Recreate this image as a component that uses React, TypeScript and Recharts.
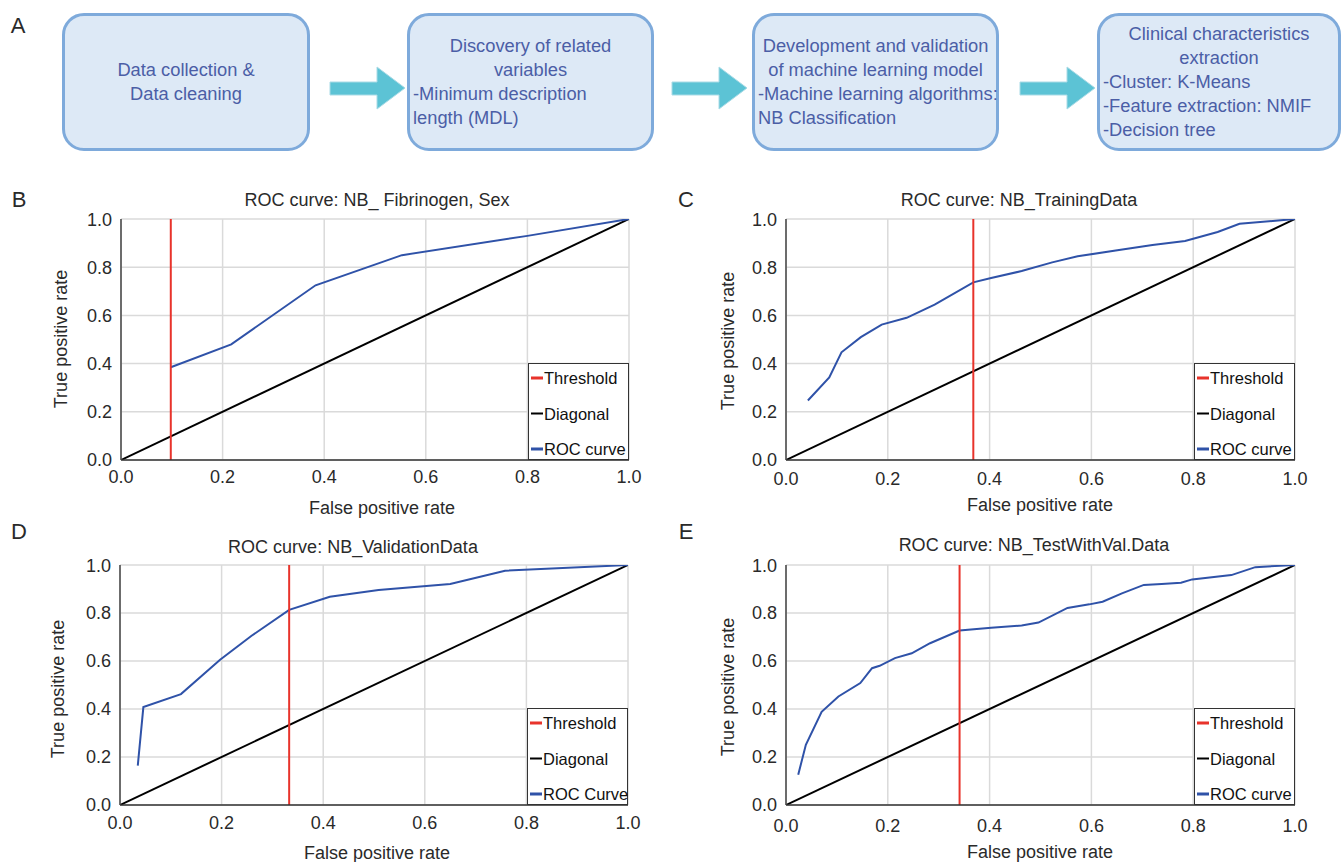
import React from "react";
import { CartesianGrid, Line, LineChart, ReferenceLine, XAxis, YAxis } from "recharts";

const axisTicks = [0, 0.2, 0.4, 0.6, 0.8, 1.0];
const diagonalFpr = [0, 1];
const diagonalTpr = [0, 1];

// B: NB_ Fibrinogen, Sex
const fprB = [0.098, 0.217, 0.383, 0.553, 0.8, 1.0];
const tprB = [0.385, 0.48, 0.725, 0.85, 0.93, 1.0];
const thresholdB = 0.098;

// C: NB_TrainingData
const fprC = [0.043, 0.085, 0.109, 0.147, 0.188, 0.237, 0.292, 0.368, 0.403, 0.463, 0.523, 0.573, 0.651, 0.72, 0.784, 0.848, 0.891, 1.0];
const tprC = [0.247, 0.343, 0.447, 0.51, 0.562, 0.59, 0.645, 0.737, 0.755, 0.784, 0.82, 0.845, 0.87, 0.892, 0.909, 0.946, 0.98, 1.0];
const thresholdC = 0.368;

// D: NB_ValidationData
const fprD = [0.035, 0.046, 0.12, 0.197, 0.259, 0.333, 0.413, 0.509, 0.65, 0.758, 1.0];
const tprD = [0.164, 0.408, 0.462, 0.605, 0.705, 0.813, 0.868, 0.896, 0.921, 0.976, 1.0];
const thresholdD = 0.333;

// E: NB_TestWithVal.Data
const fprE = [0.024, 0.039, 0.07, 0.103, 0.146, 0.169, 0.184, 0.214, 0.247, 0.283, 0.341, 0.403, 0.463, 0.496, 0.553, 0.596, 0.622, 0.66, 0.703, 0.738, 0.776, 0.798, 0.875, 0.922, 1.0];
const tprE = [0.126, 0.251, 0.388, 0.452, 0.508, 0.57, 0.58, 0.612, 0.632, 0.674, 0.727, 0.739, 0.748, 0.76, 0.821, 0.836, 0.847, 0.882, 0.917, 0.921, 0.926, 0.94, 0.958, 0.991, 1.0];
const thresholdE = 0.341;

const legendNames = ["Threshold", "Diagonal", "ROC curve"];
const legendColors = ["#e8332b", "#000000", "#2f52a8"];

const FONT = "'Liberation Sans', Arial, Helvetica, sans-serif";
const TEXT = "#2a2a2a";
const FLOW_TEXT = "#4b5ea6";

const zip = (xs: number[], ys: number[]) => xs.map((x, i) => ({ fpr: x, tpr: ys[i] }));

type Plot = { left: number; right: number; top: number; bottom: number };
type Pt = { x: number; y: number };

type PanelProps = {
  letter: string;
  letterPos: Pt;
  title: string;
  titlePos: Pt;
  xLabelPos: Pt;
  yLabelPos: Pt;
  plot: Plot;
  fpr: number[];
  tpr: number[];
  threshold: number;
  curveName: string;
  xTickGap: number;
};

function Centered({ pos, children, size = 18, rotate = false }: { pos: Pt; children: React.ReactNode; size?: number; rotate?: boolean }) {
  return (
    <div
      style={{
        position: "absolute",
        left: pos.x,
        top: pos.y,
        transform: `translate(-50%, -50%)${rotate ? " rotate(-90deg)" : ""}`,
        fontSize: size,
        lineHeight: 1,
        whiteSpace: "nowrap",
        color: TEXT
      }}
    >
      {children}
    </div>
  );
}

function RocPanel(p: PanelProps) {
  const plotW = p.plot.right - p.plot.left;
  const plotH = p.plot.bottom - p.plot.top;
  const width = plotW + 100;
  const height = plotH + 60;
  const roc = zip(p.fpr, p.tpr);
  const diag = zip(diagonalFpr, diagonalTpr);
  const names = legendNames.map((n, i) => (i === 2 ? p.curveName : n));

  return (
    <>
      <Centered pos={p.letterPos} size={22}>{p.letter}</Centered>
      <Centered pos={p.titlePos}>{p.title}</Centered>
      <Centered pos={p.xLabelPos}>False positive rate</Centered>
      <Centered pos={p.yLabelPos} rotate>True positive rate</Centered>
      <div style={{ position: "absolute", left: p.plot.left - 70, top: p.plot.top - 10 }}>
        <LineChart width={width} height={height} margin={{ top: 10, right: 30, left: 20, bottom: 20 }}>
          <CartesianGrid stroke="#dadada" strokeWidth={1.5} />
          <XAxis
            type="number"
            dataKey="fpr"
            domain={[0, 1]}
            ticks={axisTicks}
            tickFormatter={(v: number) => v.toFixed(1)}
            tickLine={false}
            tickMargin={p.xTickGap}
            height={30}
            axisLine={{ stroke: "#333", strokeWidth: 1.5 }}
            tick={{ fill: TEXT, fontSize: 18, fontFamily: FONT }}
            allowDataOverflow
          />
          <YAxis
            type="number"
            dataKey="tpr"
            domain={[0, 1]}
            ticks={axisTicks}
            tickFormatter={(v: number) => v.toFixed(1)}
            tickLine={false}
            tickMargin={3}
            width={50}
            axisLine={{ stroke: "#444", strokeWidth: 1.5 }}
            tick={{ fill: TEXT, fontSize: 18, fontFamily: FONT }}
            allowDataOverflow
          />
          <Line data={diag} dataKey="tpr" type="linear" stroke={legendColors[1]} strokeWidth={2} dot={false} isAnimationActive={false} />
          <Line data={roc} dataKey="tpr" type="linear" stroke={legendColors[2]} strokeWidth={2} dot={false} isAnimationActive={false} />
          <ReferenceLine x={p.threshold} stroke={legendColors[0]} strokeWidth={2} />
        </LineChart>
      </div>
      <div
        style={{
          position: "absolute",
          left: p.plot.right - 101,
          top: p.plot.bottom - 97,
          width: 101,
          height: 97,
          boxSizing: "border-box",
          border: "1.5px solid #333",
          background: "#fff",
          fontSize: 16.5,
          color: "#111"
        }}
      >
        {names.map((n, i) => (
          <div key={n} style={{ position: "absolute", left: 2, top: 14 + i * 35.5, transform: "translateY(-50%)", display: "flex", alignItems: "center", whiteSpace: "nowrap" }}>
            <span style={{ display: "inline-block", width: 12, height: 2.5, background: legendColors[i], marginRight: 1 }} />
            {n}
          </div>
        ))}
      </div>
    </>
  );
}

type FlowLine = { t: string; a: "center" | "left" };
const flowBoxes: { left: number; width: number; lines: FlowLine[] }[] = [
  { left: 62, width: 248, lines: [{ t: "Data collection &", a: "center" }, { t: "Data cleaning", a: "center" }] },
  {
    left: 407,
    width: 247,
    lines: [
      { t: "Discovery of related", a: "center" },
      { t: "variables", a: "center" },
      { t: "-Minimum description", a: "left" },
      { t: "length (MDL)", a: "left" }
    ]
  },
  {
    left: 752,
    width: 247,
    lines: [
      { t: "Development and validation", a: "center" },
      { t: "of machine learning model", a: "center" },
      { t: "-Machine learning algorithms:", a: "left" },
      { t: "NB Classification", a: "left" }
    ]
  },
  {
    left: 1097,
    width: 244,
    lines: [
      { t: "Clinical characteristics", a: "center" },
      { t: "extraction", a: "center" },
      { t: "-Cluster: K-Means", a: "left" },
      { t: "-Feature extraction: NMIF", a: "left" },
      { t: "-Decision tree", a: "left" }
    ]
  }
];
const arrowLefts = [329, 671, 1019];

function Flowchart() {
  return (
    <>
      <Centered pos={{ x: 18, y: 26 }} size={22}>A</Centered>
      {flowBoxes.map((b, i) => (
        <div
          key={i}
          style={{
            position: "absolute",
            left: b.left,
            top: 13,
            width: b.width,
            height: 138,
            boxSizing: "border-box",
            border: "3px solid #7eaadb",
            borderRadius: 22,
            background: "#dde9f6",
            display: "flex",
            flexDirection: "column",
            justifyContent: "center",
            padding: "0 3px",
            color: FLOW_TEXT,
            fontSize: 18.3,
            lineHeight: "24px"
          }}
        >
          {b.lines.map((l, j) => (
            <div key={j} style={{ textAlign: l.a, whiteSpace: "nowrap" }}>{l.t}</div>
          ))}
        </div>
      ))}
      {arrowLefts.map((x, i) => (
        <svg key={i} width={78} height={46} style={{ position: "absolute", left: x, top: 66 }}>
          <polygon points="1,16 48,16 48,1 76,22 48,43 48,29 1,29" fill="#5cc3d5" stroke="#a9dbe6" strokeWidth={1} />
        </svg>
      ))}
    </>
  );
}

export default function App() {
  return (
    <div style={{ position: "absolute", left: 0, top: 0, width: 1342, height: 862, background: "#fff", fontFamily: FONT, overflow: "hidden" }}>
      <Flowchart />
      <RocPanel
        letter="B"
        letterPos={{ x: 19, y: 200 }}
        title="ROC curve: NB_ Fibrinogen, Sex"
        titlePos={{ x: 377, y: 200 }}
        xLabelPos={{ x: 382, y: 508 }}
        yLabelPos={{ x: 61, y: 339 }}
        plot={{ left: 121, right: 629, top: 219, bottom: 460 }}
        fpr={fprB}
        tpr={tprB}
        threshold={thresholdB}
        curveName="ROC curve"
        xTickGap={4}
      />
      <RocPanel
        letter="C"
        letterPos={{ x: 686, y: 200 }}
        title="ROC curve: NB_TrainingData"
        titlePos={{ x: 1019, y: 200 }}
        xLabelPos={{ x: 1040, y: 505 }}
        yLabelPos={{ x: 728, y: 341 }}
        plot={{ left: 786, right: 1295, top: 219, bottom: 460 }}
        fpr={fprC}
        tpr={tprC}
        threshold={thresholdC}
        curveName="ROC curve"
        xTickGap={6}
      />
      <RocPanel
        letter="D"
        letterPos={{ x: 19, y: 532 }}
        title="ROC curve: NB_ValidationData"
        titlePos={{ x: 353, y: 547 }}
        xLabelPos={{ x: 377, y: 853 }}
        yLabelPos={{ x: 58, y: 689 }}
        plot={{ left: 120, right: 628, top: 565, bottom: 805 }}
        fpr={fprD}
        tpr={tprD}
        threshold={thresholdD}
        curveName="ROC Curve"
        xTickGap={5}
      />
      <RocPanel
        letter="E"
        letterPos={{ x: 686, y: 532 }}
        title="ROC curve: NB_TestWithVal.Data"
        titlePos={{ x: 1034, y: 545 }}
        xLabelPos={{ x: 1040, y: 852 }}
        yLabelPos={{ x: 728, y: 687 }}
        plot={{ left: 786, right: 1295, top: 565, bottom: 805 }}
        fpr={fprE}
        tpr={tprE}
        threshold={thresholdE}
        curveName="ROC curve"
        xTickGap={8}
      />
    </div>
  );
}
